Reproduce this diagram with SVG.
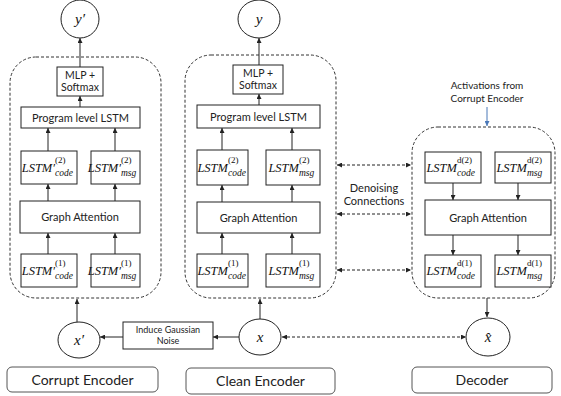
<svg xmlns="http://www.w3.org/2000/svg" width="561" height="396" viewBox="0 0 561 396">
<style>
.bg{fill:#fff}
.box{fill:#fff;stroke:#222;stroke-width:1}
.panel{fill:none;stroke:#333;stroke-width:1;stroke-dasharray:3 2}
.lbl{fill:#fff;stroke:#555;stroke-width:1}
.sans{font-family:Lato,"Liberation Sans",sans-serif;fill:#222;text-anchor:middle}
.m{font-family:"Liberation Serif","DejaVu Serif",serif;font-style:italic;fill:#111}
.mu{font-family:"Liberation Serif","DejaVu Serif",serif;fill:#111}
.main{font-size:12.5px;text-anchor:end}
.sup{font-size:9px;font-style:normal}
.sub{font-size:9.5px}
.var{font-size:15px;text-anchor:middle}
.con{stroke:#222;stroke-width:1;fill:none}
.dash{stroke:#222;stroke-width:1;fill:none;stroke-dasharray:3 2}
</style>
<defs>
<marker id="ah" viewBox="0 0 6 6" refX="6" refY="3" markerWidth="5" markerHeight="5" orient="auto-start-reverse" markerUnits="userSpaceOnUse"><path d="M0,0 L6,3 L0,6 z" fill="#222"/></marker>
<marker id="ahb" viewBox="0 0 6 6" refX="6" refY="3" markerWidth="5" markerHeight="5" orient="auto" markerUnits="userSpaceOnUse"><path d="M0,0 L6,3 L0,6 z" fill="#4a78b8"/></marker>
</defs>
<rect class="bg" width="561" height="396"/>

<g id="connectors">
<line class="con" x1="80" y1="67" x2="80" y2="38" marker-end="url(#ah)"/>
<line class="con" x1="80" y1="107" x2="80" y2="96" marker-end="url(#ah)"/>
<line class="con" x1="48" y1="151" x2="48" y2="128" marker-end="url(#ah)"/>
<line class="con" x1="115" y1="151" x2="115" y2="128" marker-end="url(#ah)"/>
<line class="con" x1="48" y1="201" x2="48" y2="184" marker-end="url(#ah)"/>
<line class="con" x1="115" y1="201" x2="115" y2="184" marker-end="url(#ah)"/>
<line class="con" x1="48" y1="254" x2="48" y2="233" marker-end="url(#ah)"/>
<line class="con" x1="115" y1="254" x2="115" y2="233" marker-end="url(#ah)"/>
<line class="con" x1="77" y1="322" x2="77" y2="299" marker-end="url(#ah)"/>
<line class="con" x1="123" y1="337" x2="100" y2="337" marker-end="url(#ah)"/>
<line class="con" x1="259" y1="65" x2="259" y2="38" marker-end="url(#ah)"/>
<line class="con" x1="259" y1="105" x2="259" y2="94" marker-end="url(#ah)"/>
<line class="con" x1="222" y1="150" x2="222" y2="128" marker-end="url(#ah)"/>
<line class="con" x1="292" y1="150" x2="292" y2="128" marker-end="url(#ah)"/>
<line class="con" x1="222" y1="202" x2="222" y2="185" marker-end="url(#ah)"/>
<line class="con" x1="292" y1="202" x2="292" y2="185" marker-end="url(#ah)"/>
<line class="con" x1="222" y1="254" x2="222" y2="233" marker-end="url(#ah)"/>
<line class="con" x1="292" y1="254" x2="292" y2="233" marker-end="url(#ah)"/>
<line class="con" x1="260" y1="319" x2="260" y2="299" marker-end="url(#ah)"/>
<line class="con" x1="239" y1="337" x2="213" y2="337" marker-end="url(#ah)"/>
<line class="con" x1="453" y1="183" x2="453" y2="200" marker-end="url(#ah)"/>
<line class="con" x1="518" y1="183" x2="518" y2="200" marker-end="url(#ah)"/>
<line class="con" x1="453" y1="235" x2="453" y2="255" marker-end="url(#ah)"/>
<line class="con" x1="518" y1="235" x2="518" y2="255" marker-end="url(#ah)"/>
<line class="con" x1="487" y1="298" x2="487" y2="317" marker-end="url(#ah)"/>
<line x1="487" y1="107" x2="487" y2="126" stroke="#4a78b8" stroke-width="1" marker-end="url(#ahb)"/>
<line class="dash" x1="337" y1="165" x2="411" y2="165" marker-start="url(#ah)" marker-end="url(#ah)"/>
<line class="dash" x1="337" y1="214" x2="411" y2="214" marker-start="url(#ah)" marker-end="url(#ah)"/>
<line class="dash" x1="337" y1="270" x2="411" y2="270" marker-start="url(#ah)" marker-end="url(#ah)"/>
<line class="dash" x1="282" y1="337" x2="466" y2="337" marker-start="url(#ah)" marker-end="url(#ah)"/>
</g>

<g id="panel-corrupt"><rect class="panel" x="10" y="57" width="151" height="241" rx="26"/></g>
<g id="panel-clean"><rect class="panel" x="185" y="55" width="151" height="243" rx="26"/></g>
<g id="panel-decoder"><rect class="panel" x="412" y="127" width="143" height="171" rx="26"/></g>

<g id="y-prime"><ellipse class="box" cx="80" cy="19" rx="19" ry="19"/><text class="m var" x="80" y="24">y′</text></g>
<g id="mlp-corrupt"><rect class="box" x="57" y="67" width="46" height="29"/><text class="sans" font-size="10.5" x="80" y="79">MLP +</text><text class="sans" font-size="10.5" x="80" y="91">Softmax</text></g>
<g id="plstm-corrupt"><rect class="box" x="21" y="107" width="119" height="21"/><text class="sans" font-size="11" x="80.5" y="121.5">Program level LSTM</text></g>
<g id="l2code-corrupt"><rect class="box" x="21" y="151" width="56" height="33"/><text class="m main" x="55" y="172">LSTM′</text><text class="mu sup" x="55" y="163">(2)</text><text class="m sub" x="55" y="176">code</text></g>
<g id="l2msg-corrupt"><rect class="box" x="91" y="151" width="49" height="33"/><text class="m main" x="121" y="172">LSTM′</text><text class="mu sup" x="121" y="163">(2)</text><text class="m sub" x="121" y="176">msg</text></g>
<g id="ga-corrupt"><rect class="box" x="20" y="201" width="120" height="32"/><text class="sans" font-size="11" x="80" y="221">Graph Attention</text></g>
<g id="l1code-corrupt"><rect class="box" x="21" y="254" width="56" height="33"/><text class="m main" x="55" y="275">LSTM′</text><text class="mu sup" x="55" y="266">(1)</text><text class="m sub" x="55" y="279">code</text></g>
<g id="l1msg-corrupt"><rect class="box" x="91" y="254" width="49" height="33"/><text class="m main" x="121" y="275">LSTM′</text><text class="mu sup" x="121" y="266">(1)</text><text class="m sub" x="121" y="279">msg</text></g>
<g id="x-prime"><ellipse class="box" cx="79" cy="340" rx="21" ry="18"/><text class="m var" x="79" y="345">x′</text></g>
<g id="noise"><rect class="box" x="123" y="322" width="90" height="27"/><text class="sans" font-size="9" x="168" y="333">Induce Gaussian</text><text class="sans" font-size="9" x="168" y="344">Noise</text></g>

<g id="y"><ellipse class="box" cx="259" cy="19" rx="21" ry="19"/><text class="m var" x="259" y="24">y</text></g>
<g id="mlp-clean"><rect class="box" x="233" y="65" width="50" height="29"/><text class="sans" font-size="10.5" x="258" y="77">MLP +</text><text class="sans" font-size="10.5" x="258" y="89">Softmax</text></g>
<g id="plstm-clean"><rect class="box" x="197" y="105" width="123" height="23"/><text class="sans" font-size="11" x="258.5" y="120.5">Program level LSTM</text></g>
<g id="l2code-clean"><rect class="box" x="197" y="150" width="51" height="35"/><text class="m main" x="228" y="172">LSTM</text><text class="mu sup" x="228" y="163">(2)</text><text class="m sub" x="228" y="176">code</text></g>
<g id="l2msg-clean"><rect class="box" x="266" y="150" width="54" height="35"/><text class="m main" x="299" y="172">LSTM</text><text class="mu sup" x="299" y="163">(2)</text><text class="m sub" x="299" y="176">msg</text></g>
<g id="ga-clean"><rect class="box" x="197" y="202" width="123" height="31"/><text class="sans" font-size="11" x="258.5" y="221.5">Graph Attention</text></g>
<g id="l1code-clean"><rect class="box" x="197" y="254" width="51" height="33"/><text class="m main" x="228" y="275">LSTM</text><text class="mu sup" x="228" y="266">(1)</text><text class="m sub" x="228" y="279">code</text></g>
<g id="l1msg-clean"><rect class="box" x="266" y="254" width="54" height="33"/><text class="m main" x="299" y="275">LSTM</text><text class="mu sup" x="299" y="266">(1)</text><text class="m sub" x="299" y="279">msg</text></g>
<g id="x"><ellipse class="box" cx="260" cy="337" rx="21" ry="18"/><text class="m var" x="260" y="342">x</text></g>

<g id="denoising-label"><text class="sans" font-size="11" x="374" y="192">Denoising</text><text class="sans" font-size="11" x="374" y="205">Connections</text></g>
<g id="activations-label"><text class="sans" font-size="10" x="487" y="89">Activations from</text><text class="sans" font-size="10" x="487" y="102">Corrupt Encoder</text></g>

<g id="l2code-dec"><rect class="box" x="425" y="152" width="56" height="31"/><text class="m main" x="457" y="172">LSTM</text><text class="mu sup" x="457" y="163">d(2)</text><text class="m sub" x="457" y="176">code</text></g>
<g id="l2msg-dec"><rect class="box" x="495" y="152" width="56" height="31"/><text class="m main" x="527" y="172">LSTM</text><text class="mu sup" x="527" y="163">d(2)</text><text class="m sub" x="527" y="176">msg</text></g>
<g id="ga-dec"><rect class="box" x="425" y="200" width="126" height="35"/><text class="sans" font-size="11" x="488" y="221.5">Graph Attention</text></g>
<g id="l1code-dec"><rect class="box" x="425" y="255" width="56" height="32"/><text class="m main" x="457" y="275">LSTM</text><text class="mu sup" x="457" y="266">d(1)</text><text class="m sub" x="457" y="279">code</text></g>
<g id="l1msg-dec"><rect class="box" x="495" y="255" width="56" height="32"/><text class="m main" x="527" y="275">LSTM</text><text class="mu sup" x="527" y="266">d(1)</text><text class="m sub" x="527" y="279">msg</text></g>
<g id="x-hat"><ellipse class="box" cx="488" cy="337" rx="22" ry="19"/><text class="m var" x="488" y="342">x̂</text></g>

<g id="label-corrupt"><rect class="lbl" x="7" y="367" width="151" height="25" rx="5"/><text class="sans" font-size="14" x="82.5" y="384.5">Corrupt Encoder</text></g>
<g id="label-clean"><rect class="lbl" x="186" y="368" width="149" height="26" rx="5"/><text class="sans" font-size="14" x="260.5" y="386">Clean Encoder</text></g>
<g id="label-decoder"><rect class="lbl" x="412" y="367" width="140" height="26" rx="5"/><text class="sans" font-size="14" x="482" y="385">Decoder</text></g>
</svg>
